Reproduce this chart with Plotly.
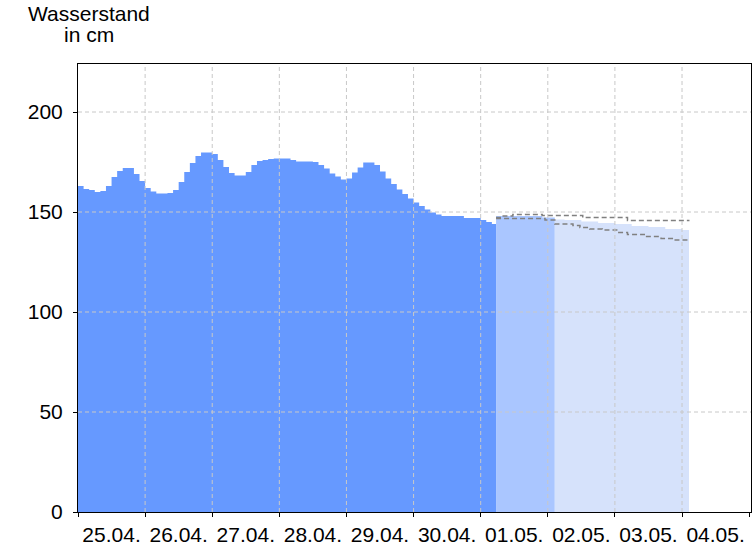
import pandas as pd
import plotly.graph_objects as go

# ---- data ----
measured_start = "2024-04-25 00:00"
measured_values = [
    163, 161.5, 161, 160, 160.5, 163, 167.5, 170.5, 172, 172, 169, 165.5,
    162, 160.3, 159.3, 159.3, 159.5, 161, 165, 170, 174.5, 178, 179.8, 179.8,
    179, 176, 172.5, 169.5, 168.2, 168.2, 170, 173.5, 175.5, 176, 176.5, 176.8,
    176.8, 176.8, 176, 175.2, 175.2, 175.2, 175, 173.5, 171.8, 169.3, 167.7, 166.3,
    166.8, 169.7, 172.3, 174.7, 174.8, 173.5, 170.2, 166.8, 164, 161.3, 159, 156.8,
    154.7, 153, 151.3, 149.7, 148.7, 148, 148, 148, 148, 147, 147, 147,
    146, 145, 144,
]
measured_end = "2024-05-01 05:30"

fc1_times = ["2024-05-01 05:30", "2024-05-01 22:00", "2024-05-02 02:30"]
fc1_values = [148.0, 147.2, 147.2]

fc2_times = ["2024-05-02 02:30", "2024-05-02 06:00", "2024-05-02 12:00", "2024-05-02 18:00",
             "2024-05-03 00:00", "2024-05-03 06:00", "2024-05-03 12:00", "2024-05-03 18:00",
             "2024-05-04 00:00", "2024-05-04 02:30"]
fc2_values = [146.2, 146.0, 145.2, 144.5, 144.0, 143.0, 142.5, 141.5, 141.0, 141.0]

upper_times = ["2024-05-01 05:30", "2024-05-01 07:00", "2024-05-01 11:30", "2024-05-01 22:00",
               "2024-05-02 12:30", "2024-05-03 04:30", "2024-05-04 02:40"]
upper_values = [147.2, 148.0, 148.8, 148.3, 147.2, 145.8, 145.8]

lower_times = ["2024-05-01 05:30", "2024-05-01 23:00", "2024-05-02 02:30", "2024-05-02 09:00",
               "2024-05-02 11:30", "2024-05-02 15:00", "2024-05-02 19:30", "2024-05-03 01:00",
               "2024-05-03 04:30", "2024-05-03 10:30", "2024-05-03 16:30", "2024-05-03 21:00",
               "2024-05-04 02:40"]
lower_values = [146.8, 146.0, 144.0, 143.2, 142.3, 141.5, 141.0, 139.8, 138.8, 137.7,
                136.8, 136.0, 136.0]

title_lines = ["Wasserstand", "in cm"]
day_ticks = pd.date_range("2024-04-25", "2024-05-04", freq="D")
y_ticks = [0, 50, 100, 150, 200]

# ---- figure ----
m_times = list(pd.date_range(measured_start, periods=len(measured_values), freq="2h")) + [pd.Timestamp(measured_end)]
m_vals = measured_values + [measured_values[-1]]

fig = go.Figure()
fig.add_trace(go.Scatter(x=m_times, y=m_vals, mode="lines", line=dict(width=0, shape="hv"),
                         fill="tozeroy", fillcolor="#6699ff", hoverinfo="skip"))
fig.add_trace(go.Scatter(x=pd.to_datetime(fc1_times), y=fc1_values, mode="lines",
                         line=dict(width=0, shape="hv"), fill="tozeroy", fillcolor="#aac6ff",
                         hoverinfo="skip"))
fig.add_trace(go.Scatter(x=pd.to_datetime(fc2_times), y=fc2_values, mode="lines",
                         line=dict(width=0, shape="hv"), fill="tozeroy", fillcolor="#d6e2fb",
                         hoverinfo="skip"))
for t, v in [(upper_times, upper_values), (lower_times, lower_values)]:
    fig.add_trace(go.Scatter(x=pd.to_datetime(t), y=v, mode="lines",
                             line=dict(width=1.5, color="#808080", dash="5px,3px", shape="hv"),
                             hoverinfo="skip"))

grid = dict(color="#c8c8c8", width=1, dash="4px,3px")
shapes = []
for d in day_ticks[1:]:
    shapes.append(dict(type="line", xref="x", yref="paper", x0=d, x1=d, y0=0, y1=1,
                       line=grid, layer="above"))
for yv in y_ticks[1:]:
    shapes.append(dict(type="line", xref="paper", yref="y", x0=0, x1=1, y0=yv, y1=yv,
                       line=grid, layer="above"))

font = dict(family="Liberation Sans, Arial, sans-serif", size=21, color="#000000")
PLOT_L, PLOT_T, PLOT_W, PLOT_H = 78, 64, 673, 448
annotations = []
for i, line in enumerate(title_lines):
    top_px = 1.5 + 21 * i
    annotations.append(dict(text=line, xref="paper", yref="paper",
                            x=(88.5 - PLOT_L) / PLOT_W, y=1 + (PLOT_T - top_px) / PLOT_H,
                            xanchor="center", yanchor="top", showarrow=False,
                            borderpad=0, font=font))

fig.update_layout(
    width=756, height=546,
    margin=dict(l=PLOT_L, r=756 - PLOT_L - PLOT_W, t=PLOT_T, b=546 - PLOT_T - PLOT_H,
                autoexpand=False),
    paper_bgcolor="white", plot_bgcolor="white",
    showlegend=False,
    font=font,
    shapes=shapes,
    annotations=annotations,
)
fig.update_xaxes(
    type="date",
    range=["2024-04-25 00:00", "2024-05-05 00:40"],
    tick0="2024-04-25", dtick=86400000,
    tickformat="%d.%m.",
    ticklabelmode="period",
    ticks="outside", ticklen=4, tickcolor="black",
    showgrid=False, zeroline=False, automargin=False,
    showline=True, linecolor="black", linewidth=1, mirror=True,
    layer="above traces",
)
fig.update_yaxes(
    range=[0, 224],
    tickvals=y_ticks,
    ticks="outside", ticklen=4, tickcolor="black",
    ticklabelstandoff=6,
    showgrid=False, zeroline=False, automargin=False,
    showline=True, linecolor="black", linewidth=1, mirror=True,
    layer="above traces",
)

# remove the browser's default 8px body margin so the figure sits at the page origin
fig.write_html("out.html", config={"displayModeBar": False},
               post_script="document.body.style.margin='0';")
